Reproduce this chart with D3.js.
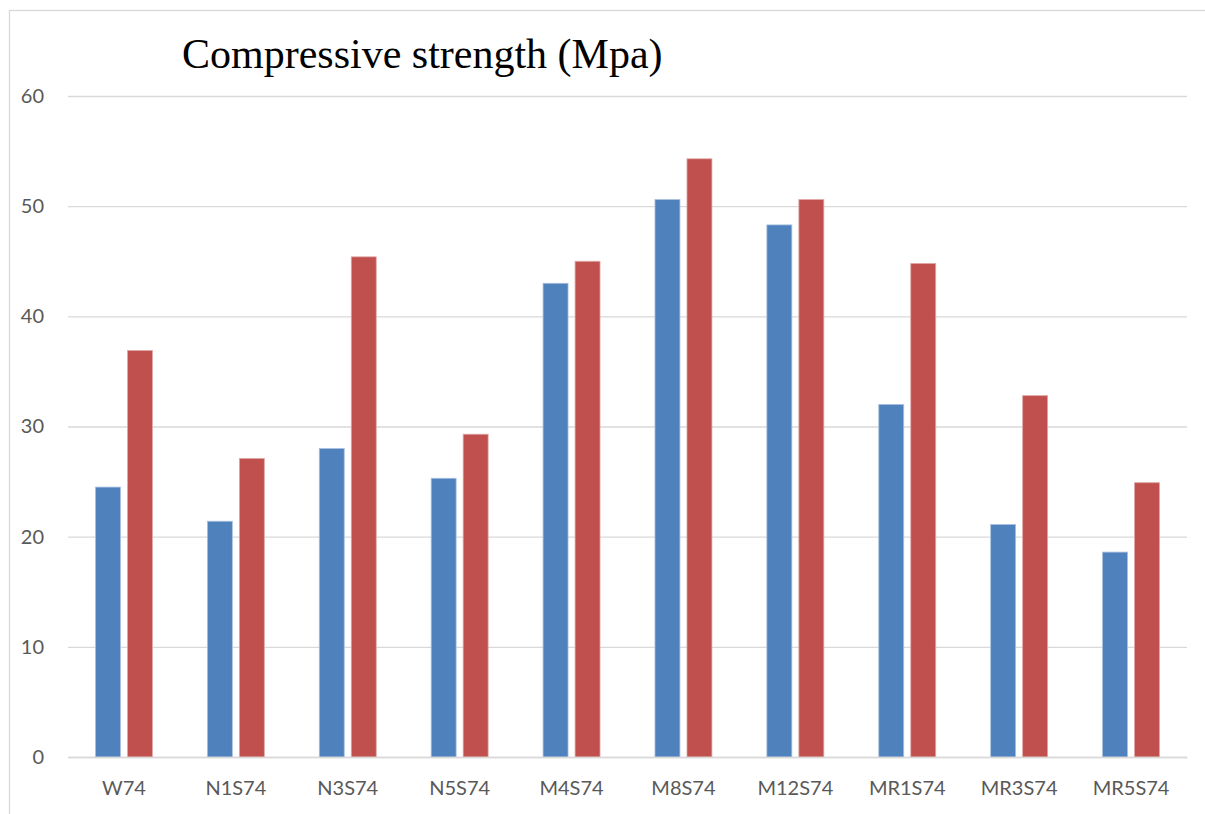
<!DOCTYPE html>
<html>
<head>
<meta charset="utf-8">
<script src="https://cdn.jsdelivr.net/npm/d3@7"></script>
<style>
  html, body { margin: 0; padding: 0; background: #fff; }
  svg { display: block; }
</style>
</head>
<body>
<script>
// Mix designs along the x axis
const categories = ["W74", "N1S74", "N3S74", "N5S74", "M4S74", "M8S74", "M12S74", "MR1S74", "MR3S74", "MR5S74"];
// Two strength series per mix (MPa)
const seriesNames = ["Series1", "Series2"];
const series1 = [24.5, 21.4, 28.0, 25.3, 43.0, 50.6, 48.3, 32.0, 21.1, 18.6];
const series2 = [36.9, 27.1, 45.4, 29.3, 45.0, 54.3, 50.6, 44.8, 32.8, 24.9];
const yTicks = [0, 10, 20, 30, 40, 50, 60];
const colors = ["#4F81BD", "#C0504D"];

const W = 1205, H = 814;
const plot = { left: 68, right: 1187, top: 96, bottom: 757 };

const svg = d3.select("body").append("svg")
  .attr("width", W).attr("height", H);

// chart frame
svg.append("rect")
  .attr("x", 9.5).attr("y", 10.5)
  .attr("width", W + 20).attr("height", H + 20)
  .attr("fill", "#fff").attr("stroke", "#d9d9d9").attr("stroke-width", 1.3);

const x = d3.scaleBand().domain(categories).range([plot.left, plot.right]).padding(0);
const y = d3.scaleLinear().domain([0, 60]).range([plot.bottom, plot.top]);

// group of two bars centred in each band
const groupW = x.bandwidth() * 0.509;
const x1 = d3.scaleBand().domain(seriesNames)
  .range([-groupW / 2, groupW / 2]).paddingInner(0.22).paddingOuter(0);

const labelFont = "Lato, 'Open Sans', sans-serif";

// horizontal gridlines + y labels
const yAxis = d3.axisLeft(y).tickValues(yTicks)
  .tickSize(-(plot.right - plot.left)).tickPadding(24).tickFormat(d3.format("d"));
const gy = svg.append("g").attr("transform", `translate(${plot.left},0)`).call(yAxis);
gy.select(".domain").remove();
gy.selectAll(".tick line").attr("stroke", "#d9d9d9").attr("stroke-width", 1.4);
gy.selectAll(".tick text")
  .attr("fill", "#595959").attr("font-family", labelFont)
  .attr("font-size", 20);

// bars
const rows = categories.map((c, i) => ({ cat: c, vals: [series1[i], series2[i]] }));
const groups = svg.append("g").selectAll("g").data(rows).join("g")
  .attr("transform", d => `translate(${x(d.cat) + x.bandwidth() / 2},0)`);
groups.selectAll("rect")
  .data(d => d.vals.map((v, k) => ({ key: seriesNames[k], v, k })))
  .join("rect")
  .attr("x", d => x1(d.key))
  .attr("width", x1.bandwidth())
  .attr("y", d => y(d.v))
  .attr("height", d => y(0) - y(d.v))
  .attr("fill", d => colors[d.k])
  .attr("stroke", d => d.k === 0 ? "#a9c0e0" : "#e0a8a6")
  .attr("stroke-width", 0.8);

// x category axis
const xAxis = d3.axisBottom(x).tickSize(0).tickPadding(24);
const gx = svg.append("g").attr("transform", `translate(0,${plot.bottom})`).call(xAxis);
gx.select(".domain").attr("stroke", "#d9d9d9").attr("stroke-width", 1.4);
gx.selectAll(".tick text")
  .attr("fill", "#595959").attr("font-family", labelFont)
  .attr("font-size", 20);

// title
svg.append("text")
  .attr("x", 182).attr("y", 68)
  .attr("font-family", "'Liberation Serif', 'Times New Roman', serif")
  .attr("font-size", 42).attr("fill", "#000")
  .text("Compressive strength (Mpa)");
</script>
</body>
</html>
